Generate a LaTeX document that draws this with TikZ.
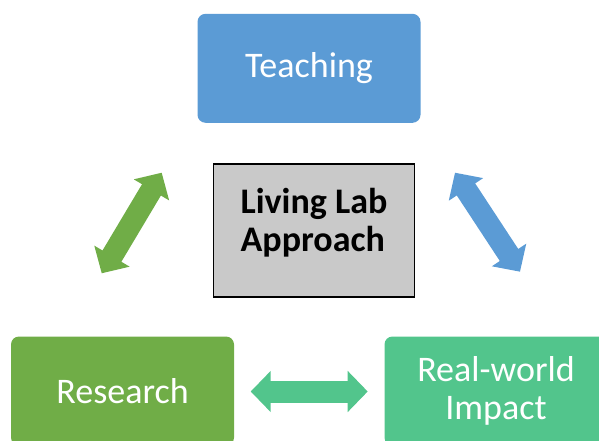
\documentclass[tikz,border=0pt]{standalone}
\usepackage{fontspec}
\setmainfont{Carlito}
\usetikzlibrary{arrows.meta}

\definecolor{teachblue}{HTML}{5B9BD5}
\definecolor{resgreen}{HTML}{70AD47}
\definecolor{impgreen}{HTML}{52C58C}
\definecolor{labgray}{HTML}{C9C9C9}

\begin{document}
\begin{tikzpicture}[x=1pt,y=-1pt,
	box/.style={rounded corners=8pt, minimum width=223pt, minimum height=109pt,
		text=white, align=center, font=\fontsize{36}{38.5}\selectfont},
	twoway/.style={line width=22pt, >={Triangle[width=40pt,length=20pt]}, <->}
	]

	\useasboundingbox (0,0) rectangle (599,441);
	\clip (0,0) rectangle (599,441);

	% the three corners
	\node[box, fill=teachblue] (teach) at (309,68.3) {Teaching};
	\node[box, fill=resgreen] (res) at (122.5,391) {Research};
	\node[box, fill=impgreen] (imp) at (496,391) {Real-world\\Impact};

	% middle box
	\node[draw=black, line width=1.5pt, fill=labgray, minimum width=201pt, minimum height=133pt,
		text depth=21pt, align=left, font=\bfseries\fontsize{36}{37.5}\selectfont] (lab) at (314,230.3)
		{Living Lab\\Approach};

	% arrow ends
	\coordinate (rt1) at (101.7,273.3);
	\coordinate (rt2) at (161.7,172.7);
	\coordinate (ti1) at (455,172.7);
	\coordinate (ti2) at (520,271.7);
	\coordinate (ri1) at (250.7,391.5);
	\coordinate (ri2) at (367.7,391.5);

	\draw[twoway, resgreen] (rt1) -- (rt2);
	\draw[twoway, teachblue] (ti1) -- (ti2);
	\draw[twoway, impgreen] (ri1) -- (ri2);

\end{tikzpicture}
\end{document}
